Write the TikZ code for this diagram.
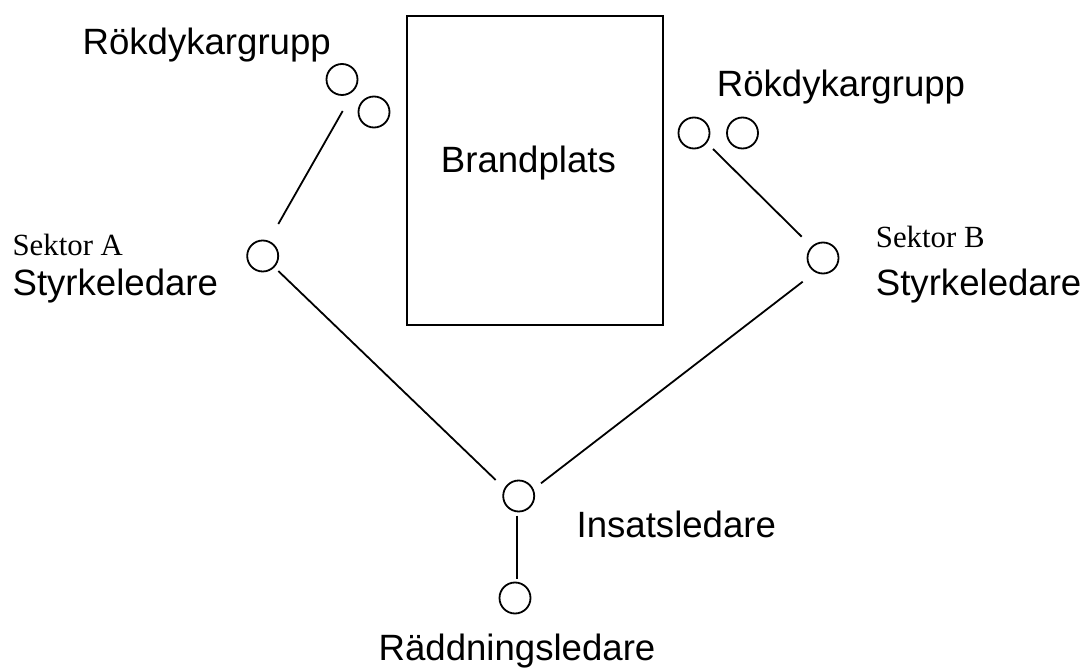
\documentclass[tikz,border=0pt]{standalone}
\usepackage{fontspec}
\setmainfont{Liberation Sans}
\newfontfamily\timesf{Liberation Serif}
\begin{document}
\begin{tikzpicture}[x=1pt,y=-1pt,line width=1.8pt,
  pers/.style={circle,draw,minimum size=31pt,inner sep=0pt},
  lbl/.style={anchor=base west,inner sep=0pt,font=\fontsize{36.6}{40}\selectfont},
  sek/.style={anchor=base west,inner sep=0pt,font=\timesf\fontsize{30.8}{34}\selectfont},
  link/.style={line width=1.8pt}]
\useasboundingbox[fill=white] (0,0) rectangle (1085,668);
% fire site
\node[draw,minimum width=256pt,minimum height=309pt,inner sep=0pt] (brand) at (534.7,170.5) {};
\node[lbl] (brandtxt) at (440,173) {Brandplats};
% persons
\node[pers] (c1) at (342,79.5) {};
\node[pers] (c2) at (374,112) {};
\node[pers] (r1) at (694,133) {};
\node[pers] (r2) at (742.5,133) {};
\node[pers] (sa) at (262.7,256) {};
\node[pers] (sb) at (823,258) {};
\node[pers] (ins) at (518.7,496) {};
\node[pers] (rl) at (515,598) {};
% labels
\node[lbl] (rokA) at (81.7,55) {Rökdykargrupp};
\node[lbl] (rokB) at (716,96.7) {Rökdykargrupp};
\node[sek] (sekA) at (11.7,256) {Sektor A};
\node[lbl] (styA) at (11.7,296) {Styrkeledare};
\node[sek] (sekB) at (875,247.7) {Sektor B};
\node[lbl] (styB) at (875,296) {Styrkeledare};
\node[lbl] (insl) at (575.7,537.3) {Insatsledare};
\node[lbl,anchor=base] (rlt) at (517,660) {Räddningsledare};
% connectors
\draw[link] ([shift={(0.7,31.5)}]c1.center) -- ([shift={(15.6,-32)}]sa.center);
\draw[link] ([shift={(19,16)}]r1.center) -- ([shift={(-21.3,-21.3)}]sb.center);
\draw[link] ([shift={(15.6,15)}]sa.center) -- ([shift={(-23,-16)}]ins.center);
\draw[link] ([shift={(-20.3,23.7)}]sb.center) -- ([shift={(22.3,-12.7)}]ins.center);
\draw[link] ([shift={(-1.4,19.7)}]ins.center) -- ([shift={(2.3,-19)}]rl.center);
\end{tikzpicture}
\end{document}
